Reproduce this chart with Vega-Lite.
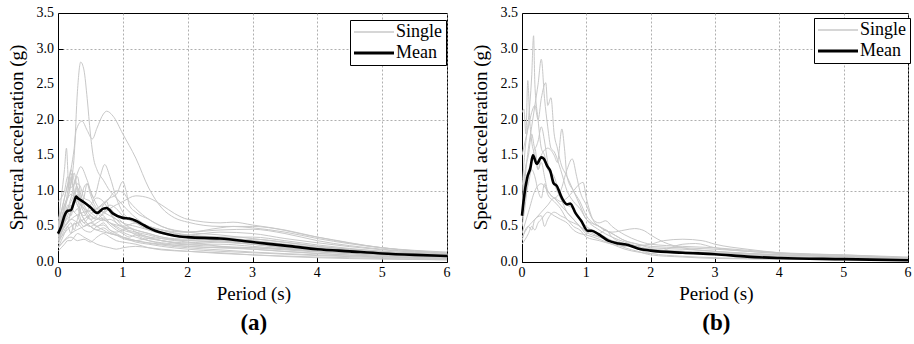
{
  "$schema": "https://vega.github.io/schema/vega-lite/v6.json",
  "background": "white",
  "padding": {"left": 6, "top": 5, "right": 1, "bottom": 2},
  "spacing": 17,
  "config": {
    "view": {"stroke": "black", "strokeWidth": 1},
    "font": "Liberation Serif, Times New Roman, DejaVu Serif, serif",
    "axis": {
      "domainColor": "black", "tickColor": "black", "labels": false, "title": null,
      "gridColor": "#9a9a9a", "gridDash": [2, 2], "gridWidth": 0.8
    },
    "legend": {
      "orient": "none", "legendX": 292, "legendY": 8,
      "strokeColor": "black", "fillColor": "white", "padding": 3,
      "labelFont": "Liberation Serif, Times New Roman, DejaVu Serif, serif", "labelFontSize": 18, "labelColor": "black",
      "symbolType": "stroke", "rowPadding": 3, "symbolOffset": 12, "labelOffset": 13
    },
    "title": {"font": "Liberation Serif, Times New Roman, DejaVu Serif, serif", "fontSize": 19, "fontWeight": "normal", "color": "black",
      "subtitleFont": "Liberation Serif, Times New Roman, DejaVu Serif, serif", "subtitleFontSize": 23, "subtitleFontWeight": "bold", "subtitleColor": "black", "subtitlePadding": 8}
  },
  "datasets": {
    "xt": [{"t":0,"l":"0"},{"t":1,"l":"1"},{"t":2,"l":"2"},{"t":3,"l":"3"},{"t":4,"l":"4"},{"t":5,"l":"5"},{"t":6,"l":"6"}],
    "yt": [{"v":0,"l":"0.0"},{"v":0.5,"l":"0.5"},{"v":1,"l":"1.0"},{"v":1.5,"l":"1.5"},{"v":2,"l":"2.0"},{"v":2.5,"l":"2.5"},{"v":3,"l":"3.0"},{"v":3.5,"l":"3.5"}],
    "a": [
      {"s":1,"t":0,"v":0.4},{"s":1,"t":0.1,"v":0.8},{"s":1,"t":0.2,"v":1.1},{"s":1,"t":0.25,"v":1.5},{"s":1,"t":0.3,"v":2.4},{"s":1,"t":0.35,"v":2.81},{"s":1,"t":0.4,"v":2.7},{"s":1,"t":0.45,"v":2.3},{"s":1,"t":0.5,"v":1.8},{"s":1,"t":0.55,"v":1.45},{"s":1,"t":0.6,"v":1.3},{"s":1,"t":0.7,"v":1.15},{"s":1,"t":0.8,"v":1.0},{"s":1,"t":0.9,"v":0.9},{"s":1,"t":1.0,"v":0.8},{"s":1,"t":1.2,"v":0.62},{"s":1,"t":1.4,"v":0.5},{"s":1,"t":1.6,"v":0.45},{"s":1,"t":2,"v":0.38},{"s":1,"t":2.5,"v":0.35},{"s":1,"t":3,"v":0.3},{"s":1,"t":4,"v":0.2},{"s":1,"t":5,"v":0.13},{"s":1,"t":6,"v":0.09},
      {"s":2,"t":0,"v":0.5},{"s":2,"t":0.1,"v":0.9},{"s":2,"t":0.2,"v":1.3},{"s":2,"t":0.25,"v":1.6},{"s":2,"t":0.28,"v":1.85},{"s":2,"t":0.37,"v":1.98},{"s":2,"t":0.45,"v":1.85},{"s":2,"t":0.53,"v":1.73},{"s":2,"t":0.6,"v":1.88},{"s":2,"t":0.7,"v":2.08},{"s":2,"t":0.75,"v":2.12},{"s":2,"t":0.85,"v":2.05},{"s":2,"t":1.0,"v":1.8},{"s":2,"t":1.2,"v":1.46},{"s":2,"t":1.4,"v":1.04},{"s":2,"t":1.6,"v":0.76},{"s":2,"t":1.8,"v":0.62},{"s":2,"t":2,"v":0.56},{"s":2,"t":2.5,"v":0.5},{"s":2,"t":3,"v":0.5},{"s":2,"t":4,"v":0.35},{"s":2,"t":5,"v":0.2},{"s":2,"t":6,"v":0.12},
      {"s":3,"t":0,"v":0.3},{"s":3,"t":0.1,"v":0.6},{"s":3,"t":0.2,"v":0.9},{"s":3,"t":0.3,"v":1.25},{"s":3,"t":0.35,"v":1.34},{"s":3,"t":0.45,"v":1.15},{"s":3,"t":0.55,"v":0.9},{"s":3,"t":0.65,"v":1.2},{"s":3,"t":0.72,"v":1.37},{"s":3,"t":0.8,"v":1.2},{"s":3,"t":0.9,"v":0.9},{"s":3,"t":1.0,"v":0.7},{"s":3,"t":1.2,"v":0.55},{"s":3,"t":1.4,"v":0.45},{"s":3,"t":1.6,"v":0.4},{"s":3,"t":2,"v":0.33},{"s":3,"t":2.5,"v":0.3},{"s":3,"t":3,"v":0.25},{"s":3,"t":4,"v":0.15},{"s":3,"t":5,"v":0.1},{"s":3,"t":6,"v":0.07},
      {"s":4,"t":0,"v":0.5},{"s":4,"t":0.05,"v":0.9},{"s":4,"t":0.1,"v":1.3},{"s":4,"t":0.13,"v":1.6},{"s":4,"t":0.17,"v":1.0},{"s":4,"t":0.2,"v":1.2},{"s":4,"t":0.25,"v":0.9},{"s":4,"t":0.3,"v":0.8},{"s":4,"t":0.4,"v":0.6},{"s":4,"t":0.5,"v":0.5},{"s":4,"t":0.6,"v":0.45},{"s":4,"t":0.8,"v":0.4},{"s":4,"t":1.0,"v":0.35},{"s":4,"t":1.2,"v":0.3},{"s":4,"t":1.5,"v":0.25},{"s":4,"t":2,"v":0.2},{"s":4,"t":2.5,"v":0.17},{"s":4,"t":3,"v":0.14},{"s":4,"t":4,"v":0.1},{"s":4,"t":5,"v":0.07},{"s":4,"t":6,"v":0.05},
      {"s":5,"t":0,"v":0.3},{"s":5,"t":0.2,"v":0.5},{"s":5,"t":0.4,"v":0.6},{"s":5,"t":0.6,"v":0.75},{"s":5,"t":0.8,"v":0.9},{"s":5,"t":0.9,"v":0.95},{"s":5,"t":1.0,"v":1.13},{"s":5,"t":1.05,"v":1.0},{"s":5,"t":1.1,"v":0.8},{"s":5,"t":1.2,"v":0.7},{"s":5,"t":1.4,"v":0.6},{"s":5,"t":1.6,"v":0.5},{"s":5,"t":2,"v":0.42},{"s":5,"t":2.5,"v":0.38},{"s":5,"t":3,"v":0.33},{"s":5,"t":4,"v":0.22},{"s":5,"t":5,"v":0.15},{"s":5,"t":6,"v":0.1},
      {"s":6,"t":0,"v":0.2},{"s":6,"t":0.2,"v":0.4},{"s":6,"t":0.4,"v":0.5},{"s":6,"t":0.6,"v":0.6},{"s":6,"t":0.8,"v":0.75},{"s":6,"t":1.0,"v":0.85},{"s":6,"t":1.2,"v":0.93},{"s":6,"t":1.4,"v":0.9},{"s":6,"t":1.6,"v":0.8},{"s":6,"t":1.8,"v":0.68},{"s":6,"t":2,"v":0.6},{"s":6,"t":2.5,"v":0.55},{"s":6,"t":2.7,"v":0.56},{"s":6,"t":3,"v":0.52},{"s":6,"t":3.5,"v":0.45},{"s":6,"t":4,"v":0.35},{"s":6,"t":5,"v":0.2},{"s":6,"t":6,"v":0.13},
      {"s":7,"t":0,"v":0.35},{"s":7,"t":0.2,"v":0.6},{"s":7,"t":0.4,"v":0.7},{"s":7,"t":0.6,"v":0.75},{"s":7,"t":0.75,"v":0.85},{"s":7,"t":0.9,"v":1.0},{"s":7,"t":1.0,"v":0.98},{"s":7,"t":1.1,"v":0.85},{"s":7,"t":1.2,"v":0.75},{"s":7,"t":1.4,"v":0.6},{"s":7,"t":1.6,"v":0.5},{"s":7,"t":2,"v":0.42},{"s":7,"t":2.5,"v":0.45},{"s":7,"t":3,"v":0.46},{"s":7,"t":3.5,"v":0.4},{"s":7,"t":4,"v":0.3},{"s":7,"t":5,"v":0.18},{"s":7,"t":6,"v":0.12},
      {"s":8,"t":0,"v":0.85},{"s":8,"t":0.05,"v":0.9},{"s":8,"t":0.1,"v":1.0},{"s":8,"t":0.15,"v":1.2},{"s":8,"t":0.2,"v":1.05},{"s":8,"t":0.25,"v":1.1},{"s":8,"t":0.3,"v":1.2},{"s":8,"t":0.35,"v":0.95},{"s":8,"t":0.4,"v":0.85},{"s":8,"t":0.5,"v":0.75},{"s":8,"t":0.6,"v":0.7},{"s":8,"t":0.7,"v":0.65},{"s":8,"t":0.8,"v":0.55},{"s":8,"t":0.9,"v":0.5},{"s":8,"t":1.0,"v":0.45},{"s":8,"t":1.2,"v":0.4},{"s":8,"t":1.4,"v":0.35},{"s":8,"t":1.6,"v":0.33},{"s":8,"t":2,"v":0.3},{"s":8,"t":2.5,"v":0.28},{"s":8,"t":3,"v":0.25},{"s":8,"t":4,"v":0.18},{"s":8,"t":5,"v":0.12},{"s":8,"t":6,"v":0.08},
      {"s":9,"t":0,"v":0.2},{"s":9,"t":0.05,"v":0.3},{"s":9,"t":0.1,"v":0.4},{"s":9,"t":0.15,"v":0.5},{"s":9,"t":0.2,"v":0.55},{"s":9,"t":0.25,"v":0.45},{"s":9,"t":0.3,"v":0.6},{"s":9,"t":0.35,"v":0.75},{"s":9,"t":0.4,"v":0.9},{"s":9,"t":0.45,"v":1.1},{"s":9,"t":0.5,"v":1.0},{"s":9,"t":0.6,"v":0.8},{"s":9,"t":0.7,"v":0.7},{"s":9,"t":0.8,"v":0.75},{"s":9,"t":0.9,"v":0.65},{"s":9,"t":1.0,"v":0.55},{"s":9,"t":1.2,"v":0.45},{"s":9,"t":1.4,"v":0.4},{"s":9,"t":1.6,"v":0.35},{"s":9,"t":2,"v":0.3},{"s":9,"t":2.5,"v":0.32},{"s":9,"t":3,"v":0.3},{"s":9,"t":3.5,"v":0.25},{"s":9,"t":4,"v":0.2},{"s":9,"t":5,"v":0.12},{"s":9,"t":6,"v":0.08},
      {"s":10,"t":0,"v":0.3},{"s":10,"t":0.05,"v":0.45},{"s":10,"t":0.1,"v":0.55},{"s":10,"t":0.15,"v":0.7},{"s":10,"t":0.2,"v":0.65},{"s":10,"t":0.25,"v":0.85},{"s":10,"t":0.3,"v":0.95},{"s":10,"t":0.35,"v":0.8},{"s":10,"t":0.4,"v":0.7},{"s":10,"t":0.5,"v":0.6},{"s":10,"t":0.6,"v":0.65},{"s":10,"t":0.7,"v":0.8},{"s":10,"t":0.75,"v":0.85},{"s":10,"t":0.8,"v":0.7},{"s":10,"t":0.9,"v":0.6},{"s":10,"t":1.0,"v":0.5},{"s":10,"t":1.2,"v":0.38},{"s":10,"t":1.4,"v":0.3},{"s":10,"t":1.6,"v":0.26},{"s":10,"t":2,"v":0.22},{"s":10,"t":2.5,"v":0.2},{"s":10,"t":3,"v":0.18},{"s":10,"t":4,"v":0.12},{"s":10,"t":5,"v":0.08},{"s":10,"t":6,"v":0.05},
      {"s":11,"t":0,"v":0.15},{"s":11,"t":0.05,"v":0.2},{"s":11,"t":0.1,"v":0.25},{"s":11,"t":0.15,"v":0.3},{"s":11,"t":0.2,"v":0.3},{"s":11,"t":0.25,"v":0.35},{"s":11,"t":0.3,"v":0.4},{"s":11,"t":0.4,"v":0.35},{"s":11,"t":0.5,"v":0.3},{"s":11,"t":0.6,"v":0.25},{"s":11,"t":0.7,"v":0.22},{"s":11,"t":0.8,"v":0.2},{"s":11,"t":0.9,"v":0.18},{"s":11,"t":1.0,"v":0.2},{"s":11,"t":1.2,"v":0.22},{"s":11,"t":1.4,"v":0.2},{"s":11,"t":1.6,"v":0.18},{"s":11,"t":2,"v":0.15},{"s":11,"t":2.5,"v":0.12},{"s":11,"t":3,"v":0.1},{"s":11,"t":4,"v":0.07},{"s":11,"t":5,"v":0.05},{"s":11,"t":6,"v":0.03},
      {"s":12,"t":0,"v":0.4},{"s":12,"t":0.05,"v":0.6},{"s":12,"t":0.1,"v":0.75},{"s":12,"t":0.15,"v":0.9},{"s":12,"t":0.2,"v":1.1},{"s":12,"t":0.25,"v":1.25},{"s":12,"t":0.3,"v":1.0},{"s":12,"t":0.35,"v":0.85},{"s":12,"t":0.4,"v":0.75},{"s":12,"t":0.5,"v":0.6},{"s":12,"t":0.6,"v":0.5},{"s":12,"t":0.7,"v":0.45},{"s":12,"t":0.8,"v":0.4},{"s":12,"t":0.9,"v":0.38},{"s":12,"t":1.0,"v":0.35},{"s":12,"t":1.2,"v":0.3},{"s":12,"t":1.4,"v":0.27},{"s":12,"t":1.6,"v":0.25},{"s":12,"t":2,"v":0.22},{"s":12,"t":2.5,"v":0.2},{"s":12,"t":3,"v":0.2},{"s":12,"t":3.5,"v":0.18},{"s":12,"t":4,"v":0.15},{"s":12,"t":5,"v":0.1},{"s":12,"t":6,"v":0.07},
      {"s":13,"t":0,"v":0.25},{"s":13,"t":0.05,"v":0.35},{"s":13,"t":0.1,"v":0.45},{"s":13,"t":0.15,"v":0.5},{"s":13,"t":0.2,"v":0.4},{"s":13,"t":0.25,"v":0.55},{"s":13,"t":0.3,"v":0.5},{"s":13,"t":0.35,"v":0.6},{"s":13,"t":0.4,"v":0.55},{"s":13,"t":0.5,"v":0.65},{"s":13,"t":0.6,"v":0.6},{"s":13,"t":0.7,"v":0.7},{"s":13,"t":0.8,"v":0.8},{"s":13,"t":0.9,"v":0.75},{"s":13,"t":1.0,"v":0.65},{"s":13,"t":1.2,"v":0.55},{"s":13,"t":1.4,"v":0.5},{"s":13,"t":1.6,"v":0.45},{"s":13,"t":1.8,"v":0.4},{"s":13,"t":2,"v":0.38},{"s":13,"t":2.5,"v":0.42},{"s":13,"t":3,"v":0.4},{"s":13,"t":3.5,"v":0.33},{"s":13,"t":4,"v":0.27},{"s":13,"t":5,"v":0.17},{"s":13,"t":6,"v":0.11},
      {"s":14,"t":0,"v":0.35},{"s":14,"t":0.05,"v":0.5},{"s":14,"t":0.1,"v":0.6},{"s":14,"t":0.15,"v":0.8},{"s":14,"t":0.2,"v":0.75},{"s":14,"t":0.25,"v":0.7},{"s":14,"t":0.3,"v":0.65},{"s":14,"t":0.35,"v":0.55},{"s":14,"t":0.4,"v":0.5},{"s":14,"t":0.5,"v":0.55},{"s":14,"t":0.6,"v":0.5},{"s":14,"t":0.7,"v":0.55},{"s":14,"t":0.8,"v":0.45},{"s":14,"t":0.9,"v":0.4},{"s":14,"t":1.0,"v":0.35},{"s":14,"t":1.2,"v":0.28},{"s":14,"t":1.4,"v":0.25},{"s":14,"t":1.6,"v":0.22},{"s":14,"t":2,"v":0.18},{"s":14,"t":2.5,"v":0.15},{"s":14,"t":3,"v":0.13},{"s":14,"t":4,"v":0.09},{"s":14,"t":5,"v":0.06},{"s":14,"t":6,"v":0.04},
      {"s":15,"t":0,"v":0.45},{"s":15,"t":0.05,"v":0.7},{"s":15,"t":0.1,"v":0.9},{"s":15,"t":0.15,"v":1.1},{"s":15,"t":0.2,"v":1.25},{"s":15,"t":0.25,"v":1.0},{"s":15,"t":0.3,"v":0.9},{"s":15,"t":0.35,"v":0.7},{"s":15,"t":0.4,"v":0.6},{"s":15,"t":0.5,"v":0.5},{"s":15,"t":0.6,"v":0.45},{"s":15,"t":0.7,"v":0.48},{"s":15,"t":0.8,"v":0.42},{"s":15,"t":0.9,"v":0.38},{"s":15,"t":1.0,"v":0.33},{"s":15,"t":1.2,"v":0.3},{"s":15,"t":1.4,"v":0.33},{"s":15,"t":1.6,"v":0.3},{"s":15,"t":2,"v":0.25},{"s":15,"t":2.5,"v":0.28},{"s":15,"t":3,"v":0.25},{"s":15,"t":3.5,"v":0.2},{"s":15,"t":4,"v":0.15},{"s":15,"t":5,"v":0.1},{"s":15,"t":6,"v":0.06},
      {"s":16,"t":0,"v":0.3},{"s":16,"t":0.05,"v":0.4},{"s":16,"t":0.1,"v":0.5},{"s":16,"t":0.15,"v":0.55},{"s":16,"t":0.2,"v":0.7},{"s":16,"t":0.25,"v":0.9},{"s":16,"t":0.3,"v":0.8},{"s":16,"t":0.35,"v":0.7},{"s":16,"t":0.4,"v":0.65},{"s":16,"t":0.5,"v":0.8},{"s":16,"t":0.6,"v":0.9},{"s":16,"t":0.7,"v":0.85},{"s":16,"t":0.8,"v":0.7},{"s":16,"t":0.9,"v":0.55},{"s":16,"t":1.0,"v":0.5},{"s":16,"t":1.2,"v":0.45},{"s":16,"t":1.4,"v":0.4},{"s":16,"t":1.6,"v":0.35},{"s":16,"t":2,"v":0.32},{"s":16,"t":2.5,"v":0.35},{"s":16,"t":3,"v":0.35},{"s":16,"t":3.5,"v":0.3},{"s":16,"t":4,"v":0.24},{"s":16,"t":5,"v":0.15},{"s":16,"t":6,"v":0.1},
      {"s":17,"t":0,"v":0.2},{"s":17,"t":0.05,"v":0.25},{"s":17,"t":0.1,"v":0.3},{"s":17,"t":0.2,"v":0.35},{"s":17,"t":0.3,"v":0.3},{"s":17,"t":0.4,"v":0.32},{"s":17,"t":0.5,"v":0.28},{"s":17,"t":0.6,"v":0.35},{"s":17,"t":0.7,"v":0.4},{"s":17,"t":0.8,"v":0.35},{"s":17,"t":0.9,"v":0.3},{"s":17,"t":1.0,"v":0.28},{"s":17,"t":1.2,"v":0.25},{"s":17,"t":1.4,"v":0.2},{"s":17,"t":1.6,"v":0.17},{"s":17,"t":2,"v":0.15},{"s":17,"t":2.5,"v":0.13},{"s":17,"t":3,"v":0.1},{"s":17,"t":4,"v":0.06},{"s":17,"t":5,"v":0.04},{"s":17,"t":6,"v":0.03},
      {"s":18,"t":0,"v":0.5},{"s":18,"t":0.05,"v":0.6},{"s":18,"t":0.1,"v":0.7},{"s":18,"t":0.15,"v":0.75},{"s":18,"t":0.2,"v":0.85},{"s":18,"t":0.25,"v":0.95},{"s":18,"t":0.3,"v":1.1},{"s":18,"t":0.35,"v":1.05},{"s":18,"t":0.4,"v":0.9},{"s":18,"t":0.5,"v":0.85},{"s":18,"t":0.6,"v":0.7},{"s":18,"t":0.7,"v":0.6},{"s":18,"t":0.8,"v":0.55},{"s":18,"t":0.9,"v":0.52},{"s":18,"t":1.0,"v":0.5},{"s":18,"t":1.2,"v":0.55},{"s":18,"t":1.4,"v":0.5},{"s":18,"t":1.6,"v":0.45},{"s":18,"t":2,"v":0.42},{"s":18,"t":2.5,"v":0.48},{"s":18,"t":2.7,"v":0.5},{"s":18,"t":3,"v":0.48},{"s":18,"t":3.5,"v":0.42},{"s":18,"t":4,"v":0.33},{"s":18,"t":5,"v":0.2},{"s":18,"t":6,"v":0.14},
      {"s":19,"t":0,"v":0.25},{"s":19,"t":0.05,"v":0.4},{"s":19,"t":0.1,"v":0.55},{"s":19,"t":0.15,"v":0.65},{"s":19,"t":0.2,"v":0.8},{"s":19,"t":0.25,"v":0.7},{"s":19,"t":0.3,"v":0.75},{"s":19,"t":0.35,"v":0.6},{"s":19,"t":0.4,"v":0.55},{"s":19,"t":0.5,"v":0.5},{"s":19,"t":0.6,"v":0.55},{"s":19,"t":0.7,"v":0.6},{"s":19,"t":0.8,"v":0.52},{"s":19,"t":0.9,"v":0.45},{"s":19,"t":1.0,"v":0.4},{"s":19,"t":1.1,"v":0.35},{"s":19,"t":1.2,"v":0.38},{"s":19,"t":1.4,"v":0.33},{"s":19,"t":1.6,"v":0.3},{"s":19,"t":2,"v":0.25},{"s":19,"t":2.5,"v":0.25},{"s":19,"t":3,"v":0.22},{"s":19,"t":4,"v":0.15},{"s":19,"t":5,"v":0.1},{"s":19,"t":6,"v":0.06},
      {"s":20,"t":0,"v":0.4},{"s":20,"t":0.05,"v":0.55},{"s":20,"t":0.1,"v":0.7},{"s":20,"t":0.15,"v":1.0},{"s":20,"t":0.2,"v":1.3},{"s":20,"t":0.25,"v":1.15},{"s":20,"t":0.3,"v":1.05},{"s":20,"t":0.35,"v":0.9},{"s":20,"t":0.4,"v":1.05},{"s":20,"t":0.45,"v":1.1},{"s":20,"t":0.5,"v":0.95},{"s":20,"t":0.6,"v":0.75},{"s":20,"t":0.7,"v":0.7},{"s":20,"t":0.8,"v":0.65},{"s":20,"t":0.9,"v":0.6},{"s":20,"t":1.0,"v":0.55},{"s":20,"t":1.2,"v":0.5},{"s":20,"t":1.4,"v":0.45},{"s":20,"t":1.6,"v":0.4},{"s":20,"t":2,"v":0.35},{"s":20,"t":2.5,"v":0.3},{"s":20,"t":3,"v":0.28},{"s":20,"t":4,"v":0.2},{"s":20,"t":5,"v":0.14},{"s":20,"t":6,"v":0.1},
      {"s":21,"t":0,"v":0.6},{"s":21,"t":0.1,"v":0.8},{"s":21,"t":0.2,"v":0.95},{"s":21,"t":0.3,"v":0.85},{"s":21,"t":0.4,"v":0.75},{"s":21,"t":0.5,"v":0.7},{"s":21,"t":0.6,"v":0.62},{"s":21,"t":0.7,"v":0.58},{"s":21,"t":0.8,"v":0.6},{"s":21,"t":0.9,"v":0.55},{"s":21,"t":1.0,"v":0.48},{"s":21,"t":1.2,"v":0.42},{"s":21,"t":1.4,"v":0.38},{"s":21,"t":1.6,"v":0.33},{"s":21,"t":2,"v":0.28},{"s":21,"t":2.5,"v":0.22},{"s":21,"t":3,"v":0.18},{"s":21,"t":4,"v":0.12},{"s":21,"t":5,"v":0.08},{"s":21,"t":6,"v":0.05},
      {"s":22,"t":0,"v":0.3},{"s":22,"t":0.1,"v":0.5},{"s":22,"t":0.2,"v":0.6},{"s":22,"t":0.3,"v":0.55},{"s":22,"t":0.4,"v":0.45},{"s":22,"t":0.5,"v":0.42},{"s":22,"t":0.6,"v":0.5},{"s":22,"t":0.7,"v":0.52},{"s":22,"t":0.8,"v":0.45},{"s":22,"t":0.9,"v":0.42},{"s":22,"t":1.0,"v":0.45},{"s":22,"t":1.1,"v":0.48},{"s":22,"t":1.2,"v":0.42},{"s":22,"t":1.4,"v":0.35},{"s":22,"t":1.6,"v":0.3},{"s":22,"t":2,"v":0.27},{"s":22,"t":2.5,"v":0.3},{"s":22,"t":3,"v":0.32},{"s":22,"t":3.5,"v":0.28},{"s":22,"t":4,"v":0.22},{"s":22,"t":5,"v":0.14},{"s":22,"t":6,"v":0.09},
      {"s":23,"t":0,"v":0.35},{"s":23,"t":0.1,"v":0.55},{"s":23,"t":0.2,"v":0.7},{"s":23,"t":0.25,"v":0.9},{"s":23,"t":0.3,"v":1.05},{"s":23,"t":0.35,"v":0.9},{"s":23,"t":0.4,"v":0.8},{"s":23,"t":0.5,"v":0.65},{"s":23,"t":0.6,"v":0.6},{"s":23,"t":0.7,"v":0.62},{"s":23,"t":0.8,"v":0.55},{"s":23,"t":0.9,"v":0.48},{"s":23,"t":1.0,"v":0.42},{"s":23,"t":1.2,"v":0.35},{"s":23,"t":1.4,"v":0.3},{"s":23,"t":1.6,"v":0.27},{"s":23,"t":2,"v":0.24},{"s":23,"t":2.5,"v":0.22},{"s":23,"t":3,"v":0.2},{"s":23,"t":4,"v":0.14},{"s":23,"t":5,"v":0.1},{"s":23,"t":6,"v":0.07}
    ],
    "ma": [
      {"t":0,"v":0.4},{"t":0.05,"v":0.5},{"t":0.1,"v":0.65},{"t":0.15,"v":0.72},{"t":0.2,"v":0.73},{"t":0.25,"v":0.85},{"t":0.28,"v":0.92},{"t":0.3,"v":0.9},{"t":0.35,"v":0.87},{"t":0.4,"v":0.84},{"t":0.5,"v":0.77},{"t":0.6,"v":0.69},{"t":0.7,"v":0.75},{"t":0.75,"v":0.76},{"t":0.85,"v":0.68},{"t":1.0,"v":0.62},{"t":1.1,"v":0.61},{"t":1.2,"v":0.58},{"t":1.3,"v":0.53},{"t":1.4,"v":0.48},{"t":1.5,"v":0.44},{"t":1.6,"v":0.41},{"t":1.8,"v":0.37},{"t":2.0,"v":0.35},{"t":2.5,"v":0.33},{"t":3.0,"v":0.28},{"t":3.5,"v":0.23},{"t":4.0,"v":0.18},{"t":4.5,"v":0.15},{"t":5.0,"v":0.12},{"t":5.5,"v":0.1},{"t":6.0,"v":0.085}
    ],
    "b": [
      {"s":1,"t":0,"v":1.0},{"s":1,"t":0.05,"v":1.6},{"s":1,"t":0.1,"v":2.0},{"s":1,"t":0.15,"v":2.6},{"s":1,"t":0.18,"v":3.18},{"s":1,"t":0.2,"v":2.5},{"s":1,"t":0.25,"v":2.0},{"s":1,"t":0.3,"v":1.6},{"s":1,"t":0.35,"v":1.5},{"s":1,"t":0.4,"v":1.3},{"s":1,"t":0.5,"v":1.2},{"s":1,"t":0.6,"v":0.9},{"s":1,"t":0.7,"v":0.8},{"s":1,"t":0.8,"v":0.75},{"s":1,"t":0.9,"v":0.6},{"s":1,"t":1.0,"v":0.5},{"s":1,"t":1.2,"v":0.4},{"s":1,"t":1.4,"v":0.3},{"s":1,"t":1.6,"v":0.25},{"s":1,"t":1.8,"v":0.2},{"s":1,"t":2,"v":0.18},{"s":1,"t":2.5,"v":0.14},{"s":1,"t":3,"v":0.12},{"s":1,"t":4,"v":0.08},{"s":1,"t":5,"v":0.05},{"s":1,"t":6,"v":0.03},
      {"s":2,"t":0,"v":0.7},{"s":2,"t":0.05,"v":1.2},{"s":2,"t":0.1,"v":1.6},{"s":2,"t":0.15,"v":1.9},{"s":2,"t":0.2,"v":2.2},{"s":2,"t":0.25,"v":2.5},{"s":2,"t":0.3,"v":2.85},{"s":2,"t":0.35,"v":2.3},{"s":2,"t":0.4,"v":1.9},{"s":2,"t":0.45,"v":1.6},{"s":2,"t":0.5,"v":1.55},{"s":2,"t":0.6,"v":1.3},{"s":2,"t":0.7,"v":1.0},{"s":2,"t":0.8,"v":0.85},{"s":2,"t":0.9,"v":0.75},{"s":2,"t":1.0,"v":0.6},{"s":2,"t":1.2,"v":0.45},{"s":2,"t":1.4,"v":0.35},{"s":2,"t":1.6,"v":0.28},{"s":2,"t":1.8,"v":0.22},{"s":2,"t":2,"v":0.18},{"s":2,"t":2.5,"v":0.15},{"s":2,"t":3,"v":0.12},{"s":2,"t":4,"v":0.08},{"s":2,"t":5,"v":0.05},{"s":2,"t":6,"v":0.03},
      {"s":3,"t":0,"v":2.1},{"s":3,"t":0.03,"v":2.15},{"s":3,"t":0.06,"v":1.8},{"s":3,"t":0.09,"v":2.55},{"s":3,"t":0.12,"v":2.0},{"s":3,"t":0.15,"v":1.7},{"s":3,"t":0.2,"v":1.5},{"s":3,"t":0.25,"v":1.3},{"s":3,"t":0.3,"v":1.4},{"s":3,"t":0.35,"v":1.2},{"s":3,"t":0.4,"v":1.0},{"s":3,"t":0.5,"v":0.9},{"s":3,"t":0.6,"v":0.8},{"s":3,"t":0.7,"v":0.7},{"s":3,"t":0.8,"v":0.6},{"s":3,"t":0.9,"v":0.5},{"s":3,"t":1.0,"v":0.42},{"s":3,"t":1.2,"v":0.35},{"s":3,"t":1.4,"v":0.3},{"s":3,"t":1.6,"v":0.25},{"s":3,"t":1.8,"v":0.2},{"s":3,"t":2,"v":0.17},{"s":3,"t":2.5,"v":0.15},{"s":3,"t":3,"v":0.13},{"s":3,"t":4,"v":0.1},{"s":3,"t":5,"v":0.08},{"s":3,"t":6,"v":0.05},
      {"s":4,"t":0,"v":1.5},{"s":4,"t":0.05,"v":1.7},{"s":4,"t":0.1,"v":1.9},{"s":4,"t":0.15,"v":2.1},{"s":4,"t":0.2,"v":2.2},{"s":4,"t":0.25,"v":2.0},{"s":4,"t":0.3,"v":2.3},{"s":4,"t":0.37,"v":2.52},{"s":4,"t":0.4,"v":2.2},{"s":4,"t":0.45,"v":2.31},{"s":4,"t":0.5,"v":1.8},{"s":4,"t":0.55,"v":1.6},{"s":4,"t":0.6,"v":1.4},{"s":4,"t":0.7,"v":1.2},{"s":4,"t":0.8,"v":1.0},{"s":4,"t":0.9,"v":0.8},{"s":4,"t":1.0,"v":0.6},{"s":4,"t":1.2,"v":0.5},{"s":4,"t":1.4,"v":0.4},{"s":4,"t":1.6,"v":0.3},{"s":4,"t":1.8,"v":0.25},{"s":4,"t":2,"v":0.2},{"s":4,"t":2.5,"v":0.18},{"s":4,"t":3,"v":0.15},{"s":4,"t":4,"v":0.1},{"s":4,"t":5,"v":0.07},{"s":4,"t":6,"v":0.04},
      {"s":5,"t":0,"v":0.5},{"s":5,"t":0.05,"v":0.8},{"s":5,"t":0.1,"v":1.2},{"s":5,"t":0.15,"v":1.4},{"s":5,"t":0.2,"v":1.6},{"s":5,"t":0.25,"v":1.3},{"s":5,"t":0.3,"v":1.5},{"s":5,"t":0.4,"v":1.6},{"s":5,"t":0.5,"v":1.5},{"s":5,"t":0.55,"v":1.4},{"s":5,"t":0.62,"v":1.87},{"s":5,"t":0.66,"v":1.6},{"s":5,"t":0.7,"v":1.2},{"s":5,"t":0.8,"v":1.0},{"s":5,"t":0.9,"v":0.85},{"s":5,"t":1.0,"v":0.65},{"s":5,"t":1.1,"v":0.55},{"s":5,"t":1.2,"v":0.5},{"s":5,"t":1.4,"v":0.4},{"s":5,"t":1.6,"v":0.3},{"s":5,"t":1.8,"v":0.25},{"s":5,"t":2,"v":0.22},{"s":5,"t":2.5,"v":0.2},{"s":5,"t":3,"v":0.18},{"s":5,"t":4,"v":0.12},{"s":5,"t":5,"v":0.08},{"s":5,"t":6,"v":0.05},
      {"s":6,"t":0,"v":0.4},{"s":6,"t":0.1,"v":0.7},{"s":6,"t":0.2,"v":1.0},{"s":6,"t":0.3,"v":1.1},{"s":6,"t":0.4,"v":1.0},{"s":6,"t":0.5,"v":0.9},{"s":6,"t":0.6,"v":1.0},{"s":6,"t":0.7,"v":1.3},{"s":6,"t":0.78,"v":1.45},{"s":6,"t":0.85,"v":1.2},{"s":6,"t":0.9,"v":1.0},{"s":6,"t":1.0,"v":0.8},{"s":6,"t":1.1,"v":0.6},{"s":6,"t":1.2,"v":0.55},{"s":6,"t":1.3,"v":0.58},{"s":6,"t":1.4,"v":0.5},{"s":6,"t":1.6,"v":0.38},{"s":6,"t":1.8,"v":0.3},{"s":6,"t":2,"v":0.25},{"s":6,"t":2.5,"v":0.22},{"s":6,"t":3,"v":0.2},{"s":6,"t":4,"v":0.13},{"s":6,"t":5,"v":0.1},{"s":6,"t":6,"v":0.06},
      {"s":7,"t":0,"v":0.35},{"s":7,"t":0.1,"v":0.5},{"s":7,"t":0.2,"v":0.6},{"s":7,"t":0.3,"v":0.7},{"s":7,"t":0.4,"v":0.8},{"s":7,"t":0.5,"v":0.9},{"s":7,"t":0.6,"v":0.85},{"s":7,"t":0.7,"v":0.9},{"s":7,"t":0.8,"v":1.0},{"s":7,"t":0.9,"v":1.1},{"s":7,"t":0.95,"v":1.12},{"s":7,"t":1.0,"v":0.9},{"s":7,"t":1.1,"v":0.6},{"s":7,"t":1.2,"v":0.5},{"s":7,"t":1.4,"v":0.42},{"s":7,"t":1.6,"v":0.45},{"s":7,"t":1.75,"v":0.47},{"s":7,"t":1.9,"v":0.44},{"s":7,"t":2,"v":0.38},{"s":7,"t":2.2,"v":0.28},{"s":7,"t":2.5,"v":0.2},{"s":7,"t":3,"v":0.15},{"s":7,"t":4,"v":0.1},{"s":7,"t":5,"v":0.07},{"s":7,"t":6,"v":0.04},
      {"s":8,"t":0,"v":0.3},{"s":8,"t":0.05,"v":0.45},{"s":8,"t":0.1,"v":0.5},{"s":8,"t":0.15,"v":0.45},{"s":8,"t":0.2,"v":0.6},{"s":8,"t":0.3,"v":0.65},{"s":8,"t":0.35,"v":0.5},{"s":8,"t":0.4,"v":0.6},{"s":8,"t":0.5,"v":0.7},{"s":8,"t":0.6,"v":0.65},{"s":8,"t":0.7,"v":0.6},{"s":8,"t":0.8,"v":0.5},{"s":8,"t":0.9,"v":0.45},{"s":8,"t":1.0,"v":0.35},{"s":8,"t":1.2,"v":0.3},{"s":8,"t":1.4,"v":0.25},{"s":8,"t":1.6,"v":0.22},{"s":8,"t":1.8,"v":0.23},{"s":8,"t":2,"v":0.25},{"s":8,"t":2.2,"v":0.3},{"s":8,"t":2.5,"v":0.32},{"s":8,"t":2.8,"v":0.3},{"s":8,"t":3,"v":0.25},{"s":8,"t":3.5,"v":0.18},{"s":8,"t":4,"v":0.13},{"s":8,"t":5,"v":0.09},{"s":8,"t":6,"v":0.06},
      {"s":9,"t":0,"v":0.25},{"s":9,"t":0.1,"v":0.4},{"s":9,"t":0.15,"v":0.5},{"s":9,"t":0.2,"v":0.45},{"s":9,"t":0.25,"v":0.55},{"s":9,"t":0.3,"v":0.6},{"s":9,"t":0.4,"v":0.7},{"s":9,"t":0.5,"v":0.65},{"s":9,"t":0.6,"v":0.6},{"s":9,"t":0.7,"v":0.55},{"s":9,"t":0.8,"v":0.45},{"s":9,"t":0.9,"v":0.4},{"s":9,"t":1.0,"v":0.38},{"s":9,"t":1.2,"v":0.32},{"s":9,"t":1.4,"v":0.25},{"s":9,"t":1.6,"v":0.18},{"s":9,"t":1.8,"v":0.14},{"s":9,"t":2,"v":0.12},{"s":9,"t":2.5,"v":0.25},{"s":9,"t":2.7,"v":0.26},{"s":9,"t":3,"v":0.2},{"s":9,"t":3.5,"v":0.15},{"s":9,"t":4,"v":0.12},{"s":9,"t":5,"v":0.1},{"s":9,"t":6,"v":0.07},
      {"s":10,"t":0,"v":0.6},{"s":10,"t":0.05,"v":0.9},{"s":10,"t":0.1,"v":1.1},{"s":10,"t":0.15,"v":1.3},{"s":10,"t":0.2,"v":1.2},{"s":10,"t":0.25,"v":1.0},{"s":10,"t":0.3,"v":0.9},{"s":10,"t":0.35,"v":1.1},{"s":10,"t":0.4,"v":0.95},{"s":10,"t":0.5,"v":0.85},{"s":10,"t":0.6,"v":0.75},{"s":10,"t":0.7,"v":0.6},{"s":10,"t":0.8,"v":0.55},{"s":10,"t":0.9,"v":0.5},{"s":10,"t":1.0,"v":0.4},{"s":10,"t":1.1,"v":0.45},{"s":10,"t":1.2,"v":0.4},{"s":10,"t":1.3,"v":0.45},{"s":10,"t":1.4,"v":0.35},{"s":10,"t":1.6,"v":0.25},{"s":10,"t":1.8,"v":0.18},{"s":10,"t":2,"v":0.12},{"s":10,"t":2.5,"v":0.08},{"s":10,"t":3,"v":0.06},{"s":10,"t":4,"v":0.04},{"s":10,"t":5,"v":0.03},{"s":10,"t":6,"v":0.02},
      {"s":11,"t":0,"v":0.8},{"s":11,"t":0.05,"v":1.3},{"s":11,"t":0.1,"v":1.5},{"s":11,"t":0.15,"v":1.8},{"s":11,"t":0.2,"v":1.6},{"s":11,"t":0.25,"v":1.7},{"s":11,"t":0.3,"v":1.9},{"s":11,"t":0.35,"v":1.7},{"s":11,"t":0.4,"v":1.4},{"s":11,"t":0.5,"v":1.1},{"s":11,"t":0.6,"v":0.9},{"s":11,"t":0.7,"v":0.7},{"s":11,"t":0.8,"v":0.6},{"s":11,"t":0.9,"v":0.5},{"s":11,"t":1.0,"v":0.45},{"s":11,"t":1.2,"v":0.35},{"s":11,"t":1.4,"v":0.28},{"s":11,"t":1.6,"v":0.2},{"s":11,"t":1.8,"v":0.15},{"s":11,"t":2,"v":0.1},{"s":11,"t":2.5,"v":0.07},{"s":11,"t":3,"v":0.05},{"s":11,"t":4,"v":0.04},{"s":11,"t":5,"v":0.03},{"s":11,"t":6,"v":0.02}
    ],
    "mb": [
      {"t":0,"v":0.65},{"t":0.03,"v":0.9},{"t":0.08,"v":1.18},{"t":0.13,"v":1.32},{"t":0.17,"v":1.5},{"t":0.23,"v":1.38},{"t":0.3,"v":1.47},{"t":0.34,"v":1.45},{"t":0.39,"v":1.35},{"t":0.44,"v":1.28},{"t":0.49,"v":1.11},{"t":0.54,"v":1.07},{"t":0.62,"v":0.9},{"t":0.7,"v":0.81},{"t":0.75,"v":0.82},{"t":0.83,"v":0.69},{"t":0.92,"v":0.58},{"t":1.02,"v":0.44},{"t":1.08,"v":0.44},{"t":1.19,"v":0.39},{"t":1.34,"v":0.3},{"t":1.5,"v":0.26},{"t":1.65,"v":0.24},{"t":1.8,"v":0.19},{"t":2.0,"v":0.16},{"t":2.5,"v":0.13},{"t":3.0,"v":0.11},{"t":3.5,"v":0.075},{"t":4.0,"v":0.056},{"t":5.0,"v":0.04},{"t":6.0,"v":0.025}
    ]
  },
  "hconcat": [
    {
      "title": {"text": "Period (s)", "subtitle": "(a)", "orient": "bottom", "anchor": "middle", "offset": 4, "dx": 24, "fontSize": 19},
      "hconcat": [
        {
          "width": 389, "height": 249,
          "title": {"text": "Spectral acceleration (g)", "orient": "left", "anchor": "middle", "frame": "group", "offset": 10, "fontSize": 19},
          "layer": [
            {
              "data": {"name": "a"},
              "mark": {"type": "line", "interpolate": "monotone", "strokeWidth": 1, "clip": true},
              "encoding": {
                "x": {"field": "t", "type": "quantitative", "scale": {"domain": [0, 6], "nice": false},
                  "axis": {"values": [0,0.5,1,1.5,2,2.5,3,3.5,4,4.5,5,5.5,6], "gridOpacity": {"condition": {"test": "datum.value % 1 !== 0", "value": 0}, "value": 1}, "tickSize": {"condition": {"test": "datum.value % 1 !== 0", "value": -3}, "value": -5}}},
                "y": {"field": "v", "type": "quantitative", "scale": {"domain": [0, 3.5], "nice": false},
                  "axis": {"values": [0,0.25,0.5,0.75,1,1.25,1.5,1.75,2,2.25,2.5,2.75,3,3.25,3.5], "gridOpacity": {"condition": {"test": "datum.value % 0.5 !== 0", "value": 0}, "value": 1}, "tickSize": {"condition": {"test": "datum.value % 0.5 !== 0", "value": -3}, "value": -5}}},
                "detail": {"field": "s", "type": "nominal"},
                "color": {"datum": "Single", "type": "nominal", "scale": {"domain": ["Single", "Mean"], "range": ["#c8c8c8", "#000000"]},
                  "legend": {"title": null, "legendX": 292, "legendY": 7, "encode": {"symbols": {"update": {"size": {"value": 1600}, "strokeWidth": {"signal": "datum.value === 'Mean' ? 3 : 1.5"}}}}}}
              }
            },
            {
              "data": {"name": "ma"},
              "mark": {"type": "line", "interpolate": "monotone", "strokeWidth": 2.6},
              "encoding": {
                "x": {"field": "t", "type": "quantitative"},
                "y": {"field": "v", "type": "quantitative"},
                "color": {"datum": "Mean", "type": "nominal"}
              }
            },
            {
              "data": {"name": "xt"},
              "mark": {"type": "text", "font": "Liberation Serif, Times New Roman, DejaVu Serif, serif", "fontSize": 14, "color": "black", "align": "center", "baseline": "top", "dy": 4},
              "encoding": {"x": {"field": "t", "type": "quantitative"}, "y": {"datum": 0, "type": "quantitative"}, "text": {"field": "l"}}
            },
            {
              "data": {"name": "yt"},
              "mark": {"type": "text", "font": "Liberation Serif, Times New Roman, DejaVu Serif, serif", "fontSize": 14, "color": "black", "align": "right", "baseline": "middle", "dx": -4},
              "encoding": {"x": {"datum": 0, "type": "quantitative"}, "y": {"field": "v", "type": "quantitative"}, "text": {"field": "l"}}
            }
          ]
        }
      ]
    },
    {
      "title": {"text": "Period (s)", "subtitle": "(b)", "orient": "bottom", "anchor": "middle", "offset": 4, "dx": 24, "fontSize": 19},
      "hconcat": [
        {
          "width": 386, "height": 249,
          "title": {"text": "Spectral acceleration (g)", "orient": "left", "anchor": "middle", "frame": "group", "offset": 10, "fontSize": 19},
          "layer": [
            {
              "data": {"name": "b"},
              "mark": {"type": "line", "interpolate": "monotone", "strokeWidth": 1, "clip": true},
              "encoding": {
                "x": {"field": "t", "type": "quantitative", "scale": {"domain": [0, 6], "nice": false},
                  "axis": {"values": [0,0.5,1,1.5,2,2.5,3,3.5,4,4.5,5,5.5,6], "gridOpacity": {"condition": {"test": "datum.value % 1 !== 0", "value": 0}, "value": 1}, "tickSize": {"condition": {"test": "datum.value % 1 !== 0", "value": -3}, "value": -5}}},
                "y": {"field": "v", "type": "quantitative", "scale": {"domain": [0, 3.5], "nice": false},
                  "axis": {"values": [0,0.25,0.5,0.75,1,1.25,1.5,1.75,2,2.25,2.5,2.75,3,3.25,3.5], "gridOpacity": {"condition": {"test": "datum.value % 0.5 !== 0", "value": 0}, "value": 1}, "tickSize": {"condition": {"test": "datum.value % 0.5 !== 0", "value": -3}, "value": -5}}},
                "detail": {"field": "s", "type": "nominal"},
                "color": {"datum": "Single", "type": "nominal", "scale": {"domain": ["Single", "Mean"], "range": ["#c8c8c8", "#000000"]},
                  "legend": {"title": null, "legendX": 292, "legendY": 5, "encode": {"symbols": {"update": {"size": {"value": 1600}, "strokeWidth": {"signal": "datum.value === 'Mean' ? 3 : 1.5"}}}}}}
              }
            },
            {
              "data": {"name": "mb"},
              "mark": {"type": "line", "interpolate": "monotone", "strokeWidth": 2.6},
              "encoding": {
                "x": {"field": "t", "type": "quantitative"},
                "y": {"field": "v", "type": "quantitative"},
                "color": {"datum": "Mean", "type": "nominal"}
              }
            },
            {
              "data": {"name": "xt"},
              "mark": {"type": "text", "font": "Liberation Serif, Times New Roman, DejaVu Serif, serif", "fontSize": 14, "color": "black", "align": "center", "baseline": "top", "dy": 4},
              "encoding": {"x": {"field": "t", "type": "quantitative"}, "y": {"datum": 0, "type": "quantitative"}, "text": {"field": "l"}}
            },
            {
              "data": {"name": "yt"},
              "mark": {"type": "text", "font": "Liberation Serif, Times New Roman, DejaVu Serif, serif", "fontSize": 14, "color": "black", "align": "right", "baseline": "middle", "dx": -4},
              "encoding": {"x": {"datum": 0, "type": "quantitative"}, "y": {"field": "v", "type": "quantitative"}, "text": {"field": "l"}}
            }
          ]
        }
      ]
    }
  ],
  "resolve": {"scale": {"color": "independent", "x": "independent", "y": "independent"}, "legend": {"color": "independent"}}
}
